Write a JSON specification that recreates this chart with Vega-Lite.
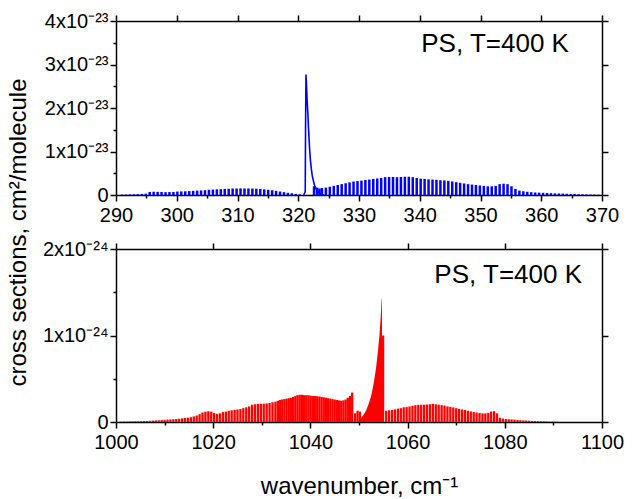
{
  "$schema": "https://vega.github.io/schema/vega-lite/v6.json",
  "padding": {"left": 6, "top": 11, "right": 5, "bottom": 5},
  "background": "white",
  "bounds": "flush",
  "spacing": 54,
  "config": {
    "view": {"stroke": null},
    "font": "Liberation Sans",
    "axis": {
      "domainColor": "#000", "domainWidth": 1.5, "tickColor": "#000", "tickWidth": 1.5,
      "labelColor": "#000", "labelFont": "Liberation Sans", "labelFontSize": 20,
      "titleFont": "Liberation Sans", "titleFontSize": 24, "titleFontWeight": "normal", "titleColor": "#000",
      "grid": false, "labelFlush": false, "labelOverlap": false, "labelPadding": 2
    },
    "axisBottom": {"labelPadding": 4}
  },
  "datasets": {
    "top": [
      {"w":291.0,"s":0.01e-23},{"w":291.65,"s":0.012e-23},{"w":292.3,"s":0.015e-23},{"w":292.95,"s":0.018e-23},{"w":293.6,"s":0.02e-23},{"w":294.25,"s":0.025e-23},{"w":294.9,"s":0.03e-23},{"w":295.55,"s":0.07e-23},{"w":296.2,"s":0.075e-23},{"w":296.85,"s":0.072e-23},{"w":297.5,"s":0.07e-23},{"w":298.15,"s":0.065e-23},{"w":298.8,"s":0.068e-23},{"w":299.45,"s":0.07e-23},{"w":300.1,"s":0.08e-23},{"w":300.75,"s":0.082e-23},{"w":301.4,"s":0.085e-23},{"w":302.05,"s":0.09e-23},{"w":302.7,"s":0.095e-23},{"w":303.35,"s":0.1e-23},{"w":304.0,"s":0.105e-23},{"w":304.65,"s":0.11e-23},{"w":305.3,"s":0.12e-23},{"w":305.95,"s":0.125e-23},{"w":306.6,"s":0.13e-23},{"w":307.25,"s":0.135e-23},{"w":307.9,"s":0.14e-23},{"w":308.55,"s":0.145e-23},{"w":309.2,"s":0.15e-23},{"w":309.85,"s":0.15e-23},{"w":310.5,"s":0.152e-23},{"w":311.15,"s":0.15e-23},{"w":311.8,"s":0.15e-23},{"w":312.45,"s":0.148e-23},{"w":313.1,"s":0.145e-23},{"w":313.75,"s":0.14e-23},{"w":314.4,"s":0.13e-23},{"w":315.05,"s":0.12e-23},{"w":315.7,"s":0.11e-23},{"w":316.35,"s":0.095e-23},{"w":317.0,"s":0.08e-23},{"w":317.65,"s":0.065e-23},{"w":318.3,"s":0.05e-23},{"w":318.95,"s":0.04e-23},{"w":319.6,"s":0.025e-23},{"w":320.25,"s":0.015e-23},
      {"w":322.6,"s":0.2e-23},{"w":323.1,"s":0.17e-23},{"w":323.5,"s":0.15e-23},
      {"w":323.9,"s":0.16e-23},{"w":324.55,"s":0.17e-23},{"w":325.2,"s":0.19e-23},{"w":325.85,"s":0.21e-23},{"w":326.5,"s":0.23e-23},{"w":327.15,"s":0.25e-23},{"w":327.8,"s":0.27e-23},{"w":328.45,"s":0.29e-23},{"w":329.1,"s":0.31e-23},{"w":329.75,"s":0.32e-23},{"w":330.4,"s":0.33e-23},{"w":331.05,"s":0.345e-23},{"w":331.7,"s":0.355e-23},{"w":332.35,"s":0.37e-23},{"w":333.0,"s":0.38e-23},{"w":333.65,"s":0.39e-23},{"w":334.3,"s":0.41e-23},{"w":334.95,"s":0.415e-23},{"w":335.6,"s":0.415e-23},{"w":336.25,"s":0.41e-23},{"w":336.9,"s":0.415e-23},{"w":337.55,"s":0.42e-23},{"w":338.2,"s":0.42e-23},{"w":338.85,"s":0.41e-23},{"w":339.5,"s":0.39e-23},{"w":340.15,"s":0.375e-23},{"w":340.8,"s":0.37e-23},{"w":341.45,"s":0.36e-23},{"w":342.1,"s":0.355e-23},{"w":342.75,"s":0.35e-23},{"w":343.4,"s":0.34e-23},{"w":344.05,"s":0.335e-23},{"w":344.7,"s":0.325e-23},{"w":345.35,"s":0.31e-23},{"w":346.0,"s":0.295e-23},{"w":346.65,"s":0.28e-23},{"w":347.3,"s":0.265e-23},{"w":347.95,"s":0.25e-23},{"w":348.6,"s":0.24e-23},{"w":349.25,"s":0.23e-23},{"w":349.9,"s":0.22e-23},{"w":350.55,"s":0.21e-23},{"w":351.2,"s":0.2e-23},{"w":351.85,"s":0.2e-23},{"w":352.5,"s":0.21e-23},{"w":353.15,"s":0.25e-23},{"w":353.8,"s":0.26e-23},{"w":354.45,"s":0.25e-23},{"w":355.1,"s":0.2e-23},{"w":355.75,"s":0.14e-23},{"w":356.4,"s":0.1e-23},{"w":357.05,"s":0.085e-23},{"w":357.7,"s":0.075e-23},{"w":358.35,"s":0.065e-23},{"w":359.0,"s":0.058e-23},{"w":359.65,"s":0.054e-23},{"w":360.3,"s":0.05e-23},{"w":360.95,"s":0.046e-23},{"w":361.6,"s":0.042e-23},{"w":362.25,"s":0.038e-23},{"w":362.9,"s":0.035e-23},{"w":363.55,"s":0.032e-23},{"w":364.2,"s":0.028e-23},{"w":364.85,"s":0.025e-23},{"w":365.5,"s":0.022e-23},{"w":366.15,"s":0.019e-23},{"w":366.8,"s":0.016e-23},{"w":367.45,"s":0.013e-23},{"w":368.1,"s":0.011e-23},{"w":368.75,"s":0.009e-23},{"w":369.4,"s":0.007e-23}
    ],
    "topq": [
      {"w":320.9,"s":0},{"w":321.15,"s":0.08e-23},{"w":321.2,"s":1.5e-23},{"w":321.27,"s":2.77e-23},{"w":321.35,"s":2.55e-23},{"w":321.45,"s":2.2e-23},{"w":321.57,"s":1.9e-23},{"w":321.7,"s":1.5e-23},{"w":321.85,"s":1.1e-23},{"w":322.0,"s":0.8e-23},{"w":322.15,"s":0.6e-23},{"w":322.3,"s":0.45e-23},{"w":322.5,"s":0.32e-23},{"w":322.7,"s":0.22e-23},{"w":322.9,"s":0.15e-23},{"w":323.1,"s":0.1e-23},{"w":323.35,"s":0.06e-23},{"w":323.6,"s":0.03e-23},{"w":323.9,"s":0.01e-23},{"w":324.3,"s":0}
    ],
    "bot": [
      {"w":1001.0,"s":0.004e-24},{"w":1001.6,"s":0.005e-24},{"w":1002.2,"s":0.005e-24},{"w":1002.8,"s":0.006e-24},{"w":1003.4,"s":0.007e-24},{"w":1004.0,"s":0.008e-24},{"w":1004.6,"s":0.009e-24},{"w":1005.2,"s":0.01e-24},{"w":1005.8,"s":0.011e-24},{"w":1006.4,"s":0.012e-24},{"w":1007.0,"s":0.014e-24},{"w":1007.6,"s":0.016e-24},{"w":1008.2,"s":0.018e-24},{"w":1008.8,"s":0.02e-24},{"w":1009.4,"s":0.022e-24},{"w":1010.0,"s":0.025e-24},{"w":1010.6,"s":0.028e-24},{"w":1011.2,"s":0.03e-24},{"w":1011.8,"s":0.032e-24},{"w":1012.4,"s":0.035e-24},{"w":1013.0,"s":0.038e-24},{"w":1013.6,"s":0.042e-24},{"w":1014.2,"s":0.046e-24},{"w":1014.8,"s":0.05e-24},{"w":1015.4,"s":0.055e-24},{"w":1016.0,"s":0.065e-24},{"w":1016.6,"s":0.075e-24},{"w":1017.2,"s":0.09e-24},{"w":1017.8,"s":0.11e-24},{"w":1018.4,"s":0.12e-24},{"w":1019.0,"s":0.125e-24},{"w":1019.6,"s":0.12e-24},{"w":1020.2,"s":0.105e-24},{"w":1020.8,"s":0.095e-24},{"w":1021.4,"s":0.1e-24},{"w":1022.0,"s":0.115e-24},{"w":1022.6,"s":0.12e-24},{"w":1023.2,"s":0.13e-24},{"w":1023.8,"s":0.135e-24},{"w":1024.4,"s":0.14e-24},{"w":1025.0,"s":0.145e-24},{"w":1025.6,"s":0.15e-24},{"w":1026.2,"s":0.16e-24},{"w":1026.8,"s":0.17e-24},{"w":1027.4,"s":0.18e-24},{"w":1028.0,"s":0.2e-24},{"w":1028.6,"s":0.205e-24},{"w":1029.2,"s":0.21e-24},{"w":1029.8,"s":0.21e-24},{"w":1030.4,"s":0.212e-24},{"w":1031.0,"s":0.215e-24},{"w":1031.6,"s":0.22e-24},{"w":1032.2,"s":0.228e-24},{"w":1032.8,"s":0.235e-24},
      {"w":1033.3,"s":0.245e-24},{"w":1033.75,"s":0.255e-24},{"w":1034.2,"s":0.26e-24},{"w":1034.65,"s":0.265e-24},{"w":1035.1,"s":0.27e-24},{"w":1035.55,"s":0.275e-24},{"w":1036.0,"s":0.28e-24},{"w":1036.45,"s":0.29e-24},{"w":1036.9,"s":0.3e-24},{"w":1037.35,"s":0.31e-24},{"w":1037.8,"s":0.315e-24},{"w":1038.25,"s":0.315e-24},{"w":1038.7,"s":0.31e-24},{"w":1039.15,"s":0.31e-24},{"w":1039.6,"s":0.31e-24},{"w":1040.05,"s":0.305e-24},{"w":1040.5,"s":0.3e-24},{"w":1040.95,"s":0.3e-24},{"w":1041.4,"s":0.298e-24},{"w":1041.85,"s":0.295e-24},{"w":1042.3,"s":0.29e-24},{"w":1042.75,"s":0.285e-24},{"w":1043.2,"s":0.28e-24},{"w":1043.65,"s":0.275e-24},{"w":1044.1,"s":0.27e-24},{"w":1044.55,"s":0.265e-24},{"w":1045.0,"s":0.26e-24},{"w":1045.45,"s":0.255e-24},{"w":1045.9,"s":0.25e-24},{"w":1046.35,"s":0.245e-24},{"w":1046.8,"s":0.25e-24},{"w":1047.25,"s":0.26e-24},{"w":1047.7,"s":0.28e-24},{"w":1048.15,"s":0.3e-24},{"w":1048.6,"s":0.34e-24},
      {"w":1049.2,"s":0.1e-24},{"w":1049.7,"s":0.13e-24},{"w":1050.2,"s":0.12e-24},{"w":1054.95,"s":1.0e-24},
      {"w":1055.6,"s":0.13e-24},{"w":1056.2,"s":0.135e-24},{"w":1056.8,"s":0.14e-24},{"w":1057.4,"s":0.145e-24},{"w":1058.0,"s":0.155e-24},{"w":1058.6,"s":0.16e-24},{"w":1059.2,"s":0.17e-24},{"w":1059.8,"s":0.172e-24},{"w":1060.4,"s":0.18e-24},{"w":1061.0,"s":0.188e-24},{"w":1061.6,"s":0.195e-24},{"w":1062.2,"s":0.198e-24},{"w":1062.8,"s":0.2e-24},{"w":1063.4,"s":0.2e-24},{"w":1064.0,"s":0.202e-24},{"w":1064.6,"s":0.205e-24},{"w":1065.2,"s":0.21e-24},{"w":1065.8,"s":0.205e-24},{"w":1066.4,"s":0.2e-24},{"w":1067.0,"s":0.195e-24},{"w":1067.6,"s":0.19e-24},{"w":1068.2,"s":0.18e-24},{"w":1068.8,"s":0.175e-24},{"w":1069.4,"s":0.168e-24},{"w":1070.0,"s":0.16e-24},{"w":1070.6,"s":0.152e-24},{"w":1071.2,"s":0.145e-24},{"w":1071.8,"s":0.138e-24},{"w":1072.4,"s":0.13e-24},{"w":1073.0,"s":0.122e-24},{"w":1073.6,"s":0.115e-24},{"w":1074.2,"s":0.11e-24},{"w":1074.8,"s":0.105e-24},{"w":1075.4,"s":0.1e-24},{"w":1076.0,"s":0.1e-24},{"w":1076.6,"s":0.105e-24},{"w":1077.2,"s":0.12e-24},{"w":1077.8,"s":0.125e-24},{"w":1078.4,"s":0.1e-24},{"w":1079.0,"s":0.05e-24},{"w":1079.6,"s":0.04e-24},{"w":1080.2,"s":0.035e-24},{"w":1080.8,"s":0.032e-24},{"w":1081.4,"s":0.03e-24},{"w":1082.0,"s":0.027e-24},{"w":1082.6,"s":0.024e-24},{"w":1083.2,"s":0.021e-24},{"w":1083.8,"s":0.019e-24},{"w":1084.4,"s":0.017e-24},{"w":1085.0,"s":0.015e-24},{"w":1085.6,"s":0.013e-24},{"w":1086.2,"s":0.012e-24},{"w":1086.8,"s":0.01e-24},{"w":1087.4,"s":0.009e-24},{"w":1088.0,"s":0.008e-24},{"w":1088.6,"s":0.006e-24},{"w":1089.2,"s":0.005e-24},{"w":1089.8,"s":0.004e-24},{"w":1090.4,"s":0.003e-24},{"w":1091.0,"s":0.002e-24}
    ],
    "botq": [
      {"w":1049.6,"s":0},{"w":1050.0,"s":0.02e-24},{"w":1050.5,"s":0.05e-24},{"w":1051.0,"s":0.09e-24},{"w":1051.5,"s":0.14e-24},{"w":1052.0,"s":0.21e-24},{"w":1052.5,"s":0.3e-24},{"w":1053.0,"s":0.44e-24},{"w":1053.5,"s":0.62e-24},{"w":1053.9,"s":0.82e-24},{"w":1054.2,"s":1.0e-24},{"w":1054.45,"s":1.2e-24},{"w":1054.65,"s":1.42e-24},{"w":1054.72,"s":1.43e-24},{"w":1054.78,"s":0}
    ]
  },
  "vconcat": [
    {
      "width": 486, "height": 174,
      "layer": [
        {
          "data": {"name": "top"},
          "mark": {"type": "rule", "color": "#0000ff", "strokeWidth": 2.5},
          "encoding": {
            "x": {"field": "w", "type": "quantitative", "scale": {"domain": [290, 370], "nice": false, "zero": false},
              "axis": {"orient": "bottom", "title": null, "values": [290,295,300,305,310,315,320,325,330,335,340,345,350,355,360,365,370],
                "labelExpr": "datum.value % 10 == 0 ? format(datum.value, 'd') : ''",
                "tickSize": {"condition": {"test": "datum.value % 10 == 0", "value": 6}, "value": 3}}},
            "y": {"field": "s", "type": "quantitative", "scale": {"domain": [0, 4e-23], "nice": false},
              "axis": {"orient": "left", "values": [0, 0.5e-23, 1e-23, 1.5e-23, 2e-23, 2.5e-23, 3e-23, 3.5e-23, 4e-23],
                "labelExpr": "round(datum.value*2e23) % 2 == 0 ? (datum.value == 0 ? '0' : round(datum.value*1e23) + 'x10⁻²³') : ''",
                "tickSize": {"condition": {"test": "round(datum.value*2e23) % 2 == 0", "value": 6}, "value": 3},
                "title": "cross sections, cm²/molecule", "titleX": -98, "titleY": 211, "titleAngle": 270, "titleBaseline": "middle", "titleAlign": "center"}},
            "y2": {"datum": 0}
          }
        },
        {
          "data": {"name": "topq"},
          "mark": {"type": "line", "color": "#0000ff", "strokeWidth": 1.6},
          "encoding": {
            "x": {"field": "w", "type": "quantitative",
              "axis": {"orient": "top", "title": null, "labels": false, "values": [290,300,310,320,330,340,350,360,370], "tickSize": 6}},
            "y": {"field": "s", "type": "quantitative",
              "axis": {"orient": "right", "title": null, "labels": false, "values": [0, 1e-23, 2e-23, 3e-23, 4e-23], "tickSize": 6}}
          }
        },
        {
          "data": {"values": [{}]},
          "mark": {"type": "text", "fontSize": 26, "font": "Liberation Sans", "color": "#000", "align": "center", "baseline": "middle"},
          "encoding": {
            "x": {"datum": 352.4, "type": "quantitative", "axis": null},
            "y": {"datum": 3.47e-23, "type": "quantitative", "axis": null},
            "text": {"value": "PS, T=400 K"}
          }
        }
      ],
      "resolve": {"axis": {"x": "independent", "y": "independent"}}
    },
    {
      "width": 486, "height": 173,
      "layer": [
        {
          "data": {"name": "bot"},
          "mark": {"type": "rule", "color": "#ff0000", "strokeWidth": 2.3},
          "encoding": {
            "x": {"field": "w", "type": "quantitative", "scale": {"domain": [1000, 1100], "nice": false, "zero": false},
              "axis": {"orient": "bottom", "values": [1000,1010,1020,1030,1040,1050,1060,1070,1080,1090,1100],
                "labelExpr": "datum.value % 20 == 0 ? format(datum.value, 'd') : ''",
                "tickSize": {"condition": {"test": "datum.value % 20 == 0", "value": 6}, "value": 3},
                "title": "wavenumber, cm⁻¹", "titleX": 243, "titleY": 64, "titleBaseline": "middle", "titleAlign": "center"}},
            "y": {"field": "s", "type": "quantitative", "scale": {"domain": [0, 2e-24], "nice": false},
              "axis": {"orient": "left", "title": null, "values": [0, 0.5e-24, 1e-24, 1.5e-24, 2e-24],
                "labelExpr": "round(datum.value*2e24) % 2 == 0 ? (datum.value == 0 ? '0' : round(datum.value*1e24) + 'x10⁻²⁴') : ''",
                "tickSize": {"condition": {"test": "round(datum.value*2e24) % 2 == 0", "value": 6}, "value": 3}}},
            "y2": {"datum": 0}
          }
        },
        {
          "data": {"name": "botq"},
          "mark": {"type": "area", "color": "#ff0000", "opacity": 1},
          "encoding": {
            "x": {"field": "w", "type": "quantitative",
              "axis": {"orient": "top", "title": null, "labels": false, "values": [1000,1020,1040,1060,1080,1100], "tickSize": 6}},
            "y": {"field": "s", "type": "quantitative",
              "axis": {"orient": "right", "title": null, "labels": false, "values": [0, 1e-24, 2e-24], "tickSize": 6}}
          }
        },
        {
          "data": {"values": [{}]},
          "mark": {"type": "text", "fontSize": 26, "font": "Liberation Sans", "color": "#000", "align": "center", "baseline": "middle"},
          "encoding": {
            "x": {"datum": 1080.7, "type": "quantitative", "axis": null},
            "y": {"datum": 1.7e-24, "type": "quantitative", "axis": null},
            "text": {"value": "PS, T=400 K"}
          }
        }
      ],
      "resolve": {"axis": {"x": "independent", "y": "independent"}}
    }
  ]
}
